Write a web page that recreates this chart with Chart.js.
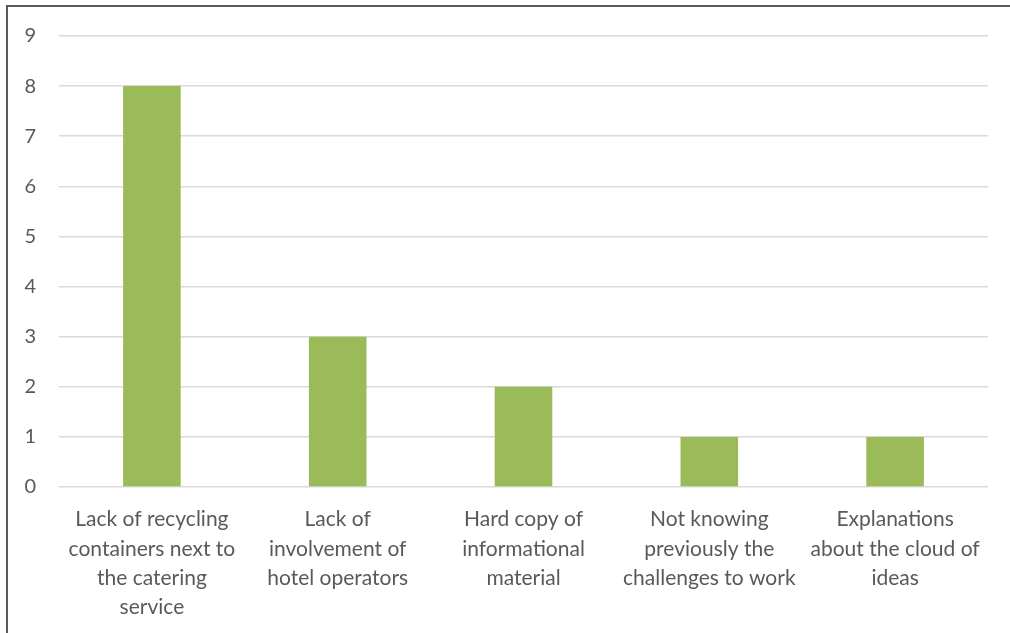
<!DOCTYPE html>
<html>
<head>
<meta charset="utf-8">
<script src="https://cdn.jsdelivr.net/npm/chart.js@4/dist/chart.umd.min.js"></script>
<style>
  html, body { margin: 0; padding: 0; background: #fff; }
  #wrap { position: relative; width: 1010px; height: 633px; overflow: hidden; }
  #frame { position: absolute; left: 6px; top: 5px; right: -10px; bottom: -10px;
           border-left: 2px solid #5a5a5a; border-top: 2px solid #5a5a5a; }
  #chart { position: absolute; left: 0; top: 0; }
</style>
</head>
<body>
<div id="wrap">
  <div id="frame"></div>
  <canvas id="chart" width="1010" height="633"></canvas>
</div>
<script>
// categories (wrapped as they appear under each bar)
const categories = [
  ['Lack of recycling', 'containers next to', 'the catering', 'service'],
  ['Lack of', 'involvement of', 'hotel operators'],
  ['Hard copy of', 'informational', 'material'],
  ['Not knowing', 'previously the', 'challenges to work'],
  ['Explanations', 'about the cloud of', 'ideas']
];
const counts = [8, 3, 2, 1, 1];
const yTicks = [0, 1, 2, 3, 4, 5, 6, 7, 8, 9];

const textColor = '#595959';
const gridColor = '#d9d9d9';
const barColor = '#9bbb59';

new Chart(document.getElementById('chart'), {
  type: 'bar',
  data: {
    labels: categories,
    datasets: [{
      data: counts,
      backgroundColor: barColor,
      borderWidth: 0,
      categoryPercentage: 1,
      barPercentage: 0.31
    }]
  },
  options: {
    responsive: false,
    animation: false,
    layout: { padding: { left: 0, right: 22, top: 36, bottom: 0 } },
    plugins: { legend: { display: false }, tooltip: { enabled: false } },
    scales: {
      x: {
        grid: { display: false },
        border: { display: false },
        ticks: {
          color: textColor,
          font: { family: 'Lato', size: 21, lineHeight: 1.39 },
          padding: 10,
          maxRotation: 0,
          autoSkip: false
        },
        afterFit: (axis) => { axis.height = 633 - 487; }
      },
      y: {
        min: 0,
        max: 9,
        afterBuildTicks: (axis) => { axis.ticks = yTicks.map(v => ({ value: v })); },
        grid: { color: gridColor, lineWidth: 1.5, drawTicks: false },
        border: { display: false },
        ticks: {
          color: textColor,
          font: { family: 'Lato', size: 20 },
          padding: 23
        },
        afterFit: (axis) => { axis.width = 59; }
      }
    }
  }
});
</script>
</body>
</html>
